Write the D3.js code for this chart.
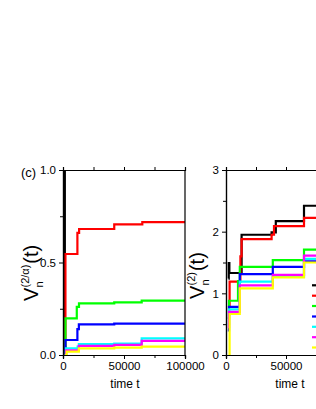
<!DOCTYPE html>
<html>
<head>
<meta charset="utf-8">
<script src="https://cdn.jsdelivr.net/npm/d3@7"></script>
<style>
  body { margin: 0; background: #fff; }
  svg { display: block; font-family: "Liberation Sans", Arial, sans-serif; }
</style>
</head>
<body>
<script>
// Colours of the seven series (same order in both panels)
const seriesColors = ["#000000", "#ff0000", "#00ff00", "#0000ff", "#00ffff", "#ff00ff", "#ffff00"];

// Left panel (c): V_n^(2/alpha)(t), points are [time, value]
const leftBlack   = [[1200, 0], [1500, 1.0], [100000, 1.0]];
const leftRed     = [[1500, 0], [2000, 0.546], [11800, 0.66], [13200, 0.681], [42000, 0.706], [65000, 0.718], [100000, 0.718]];
const leftGreen   = [[1500, 0], [2000, 0.198], [11300, 0.26], [13100, 0.279], [42000, 0.284], [64500, 0.294], [100000, 0.294]];
const leftBlue    = [[1500, 0], [2000, 0.081], [11800, 0.14], [13000, 0.166], [42000, 0.170], [100000, 0.170]];
const leftCyan    = [[1500, 0], [2500, 0.036], [12000, 0.045], [13000, 0.059], [42000, 0.062], [64500, 0.09], [100000, 0.09]];
const leftMagenta = [[1500, 0], [2500, 0.025], [13000, 0.049], [42000, 0.055], [64500, 0.076], [100000, 0.076]];
const leftYellow  = [[1500, 0], [3000, 0.018], [13000, 0.036], [42000, 0.040], [64500, 0.045], [100000, 0.045]];

// Right panel: V_n^(2)(t)
const rightBlack   = [[2000, 1.24], [2300, 1.49], [2800, 1.33], [13000, 1.95], [38000, 1.99], [41500, 2.17], [65000, 2.42], [100000, 2.42]];
const rightRed     = [[1800, 0.8], [3000, 1.19], [12000, 1.6], [13000, 1.88], [38000, 1.95], [40000, 2.09], [65000, 2.225], [100000, 2.225]];
const rightGreen   = [[1500, 0.6], [2500, 0.88], [10000, 1.2], [11500, 1.43], [39000, 1.54], [65000, 1.71], [100000, 1.71]];
const rightBlue    = [[1500, 0.4], [2500, 0.78], [11500, 1.31], [39000, 1.43], [65000, 1.52], [100000, 1.52]];
const rightCyan    = [[1500, 0.5], [2500, 0.74], [11500, 1.19], [39000, 1.27], [65000, 1.56], [100000, 1.56]];
const rightMagenta = [[1500, 0.45], [2500, 0.70], [11500, 1.13], [39000, 1.30], [65000, 1.61], [100000, 1.61]];
const rightYellow  = [[2000, 0], [3000, 0.665], [11500, 1.08], [39000, 1.26], [65000, 1.50], [100000, 1.50]];

// Tick values
const leftXTicks = [0, 50000, 100000];
const rightXTicks = [0, 50000];
const xMinorTicks = [25000, 75000];
const leftYTicks = [0, 0.5, 1.0];
const leftYMinor = [0.25, 0.75];
const rightYTicks = [0, 1, 2, 3];
const rightYMinor = [0.5, 1.5, 2.5];

const leftSeries = [leftBlack, leftRed, leftGreen, leftBlue, leftCyan, leftMagenta, leftYellow];
const rightSeries = [rightBlack, rightRed, rightGreen, rightBlue, rightCyan, rightMagenta, rightYellow];

const svg = d3.select("body").append("svg")
  .attr("width", 316)
  .attr("height", 409);

function panel (id, left, right, top, bottom, yMax, series, xTicks, yTicks, yMinor, yFmt, labelX) {
  const x = d3.scaleLinear().domain([0, 100000]).range([left, right]);
  const y = d3.scaleLinear().domain([0, yMax]).range([bottom, top]);

  svg.append("clipPath").attr("id", id)
    .append("rect")
    .attr("x", left).attr("y", top)
    .attr("width", right - left).attr("height", bottom - top);

  const line = d3.line()
    .x(d => x(d[0]))
    .y(d => y(d[1]))
    .curve(d3.curveStepAfter);

  svg.append("g").attr("clip-path", "url(#" + id + ")")
    .selectAll("path")
    .data(series).enter()
    .append("path")
    .attr("d", line)
    .attr("fill", "none")
    .attr("stroke", (d, i) => seriesColors[i])
    .attr("stroke-width", 2.2);

  // bottom axis
  svg.append("g")
    .attr("transform", "translate(0," + bottom + ")")
    .call(d3.axisBottom(x).tickValues(xTicks).tickSize(4).tickFormat(d3.format("d")));
  svg.append("g")
    .attr("transform", "translate(0," + bottom + ")")
    .call(d3.axisBottom(x).tickValues(xMinorTicks).tickSize(3).tickFormat(""));

  // top axis, ticks outward, no labels
  svg.append("g")
    .attr("transform", "translate(0," + top + ")")
    .call(d3.axisTop(x).tickValues([0, 25000, 50000, 75000, 100000]).tickSize(3).tickFormat(""));

  // left axis
  svg.append("g")
    .attr("transform", "translate(" + left + ",0)")
    .call(d3.axisLeft(y).tickValues(yTicks).tickSize(4).tickFormat(yFmt));
  svg.append("g")
    .attr("transform", "translate(" + left + ",0)")
    .call(d3.axisLeft(y).tickValues(yMinor).tickSize(3).tickFormat(""));

  // right border
  svg.append("line")
    .attr("x1", right).attr("x2", right)
    .attr("y1", top).attr("y2", bottom)
    .attr("stroke", "#000").attr("stroke-width", 1.2);

  svg.selectAll(".domain").attr("stroke-width", 1.2);
  svg.selectAll(".tick text").attr("font-size", 11.5).attr("fill", "#000")
    .attr("font-family", "Liberation Sans, Arial, sans-serif");

  // x label
  svg.append("text")
    .attr("x", labelX)
    .attr("y", 388)
    .attr("text-anchor", "middle")
    .attr("font-size", 12)
    .text("time t");
}

panel("clipL", 63, 185, 170, 355, 1.0, leftSeries, leftXTicks, leftYTicks, leftYMinor, d3.format(".1f"), 125);
panel("clipR", 226, 346, 170, 355, 3, rightSeries, rightXTicks, rightYTicks, rightYMinor, d3.format("d"), 290);

// Panel tag
svg.append("text")
  .attr("x", 21).attr("y", 177)
  .attr("font-size", 13)
  .text("(c)");

// Rotated y titles: V, sub n, superscript, (t)
function yTitle (px, py, sup) {
  const g = svg.append("g")
    .attr("transform", "translate(" + px + "," + py + ") rotate(-90)");
  g.append("text").attr("x", 0).attr("y", 0)
    .attr("font-size", 20).text("V");
  const s = g.append("text").attr("x", 13.5).attr("y", -9)
    .attr("font-size", 11).text(sup);
  g.append("text").attr("x", 13.5).attr("y", 5)
    .attr("font-size", 11).text("n");
  const w = s.node().getComputedTextLength();
  g.append("text").attr("x", 14.5 + w).attr("y", 0)
    .attr("font-size", 20).text("(t)");
}
yTitle(38, 301, "(2/\u03b1)");
yTitle(204, 299, "(2)");

// Legend line samples (labels fall outside the page)
const legendY = [285.3, 295.7, 306, 316.5, 326.8, 337.2, 347.5];
svg.append("g").selectAll("line")
  .data(legendY).enter()
  .append("line")
  .attr("x1", 312).attr("x2", 332)
  .attr("y1", d => d).attr("y2", d => d)
  .attr("stroke", (d, i) => seriesColors[i])
  .attr("stroke-width", 2.2);
</script>
</body>
</html>
